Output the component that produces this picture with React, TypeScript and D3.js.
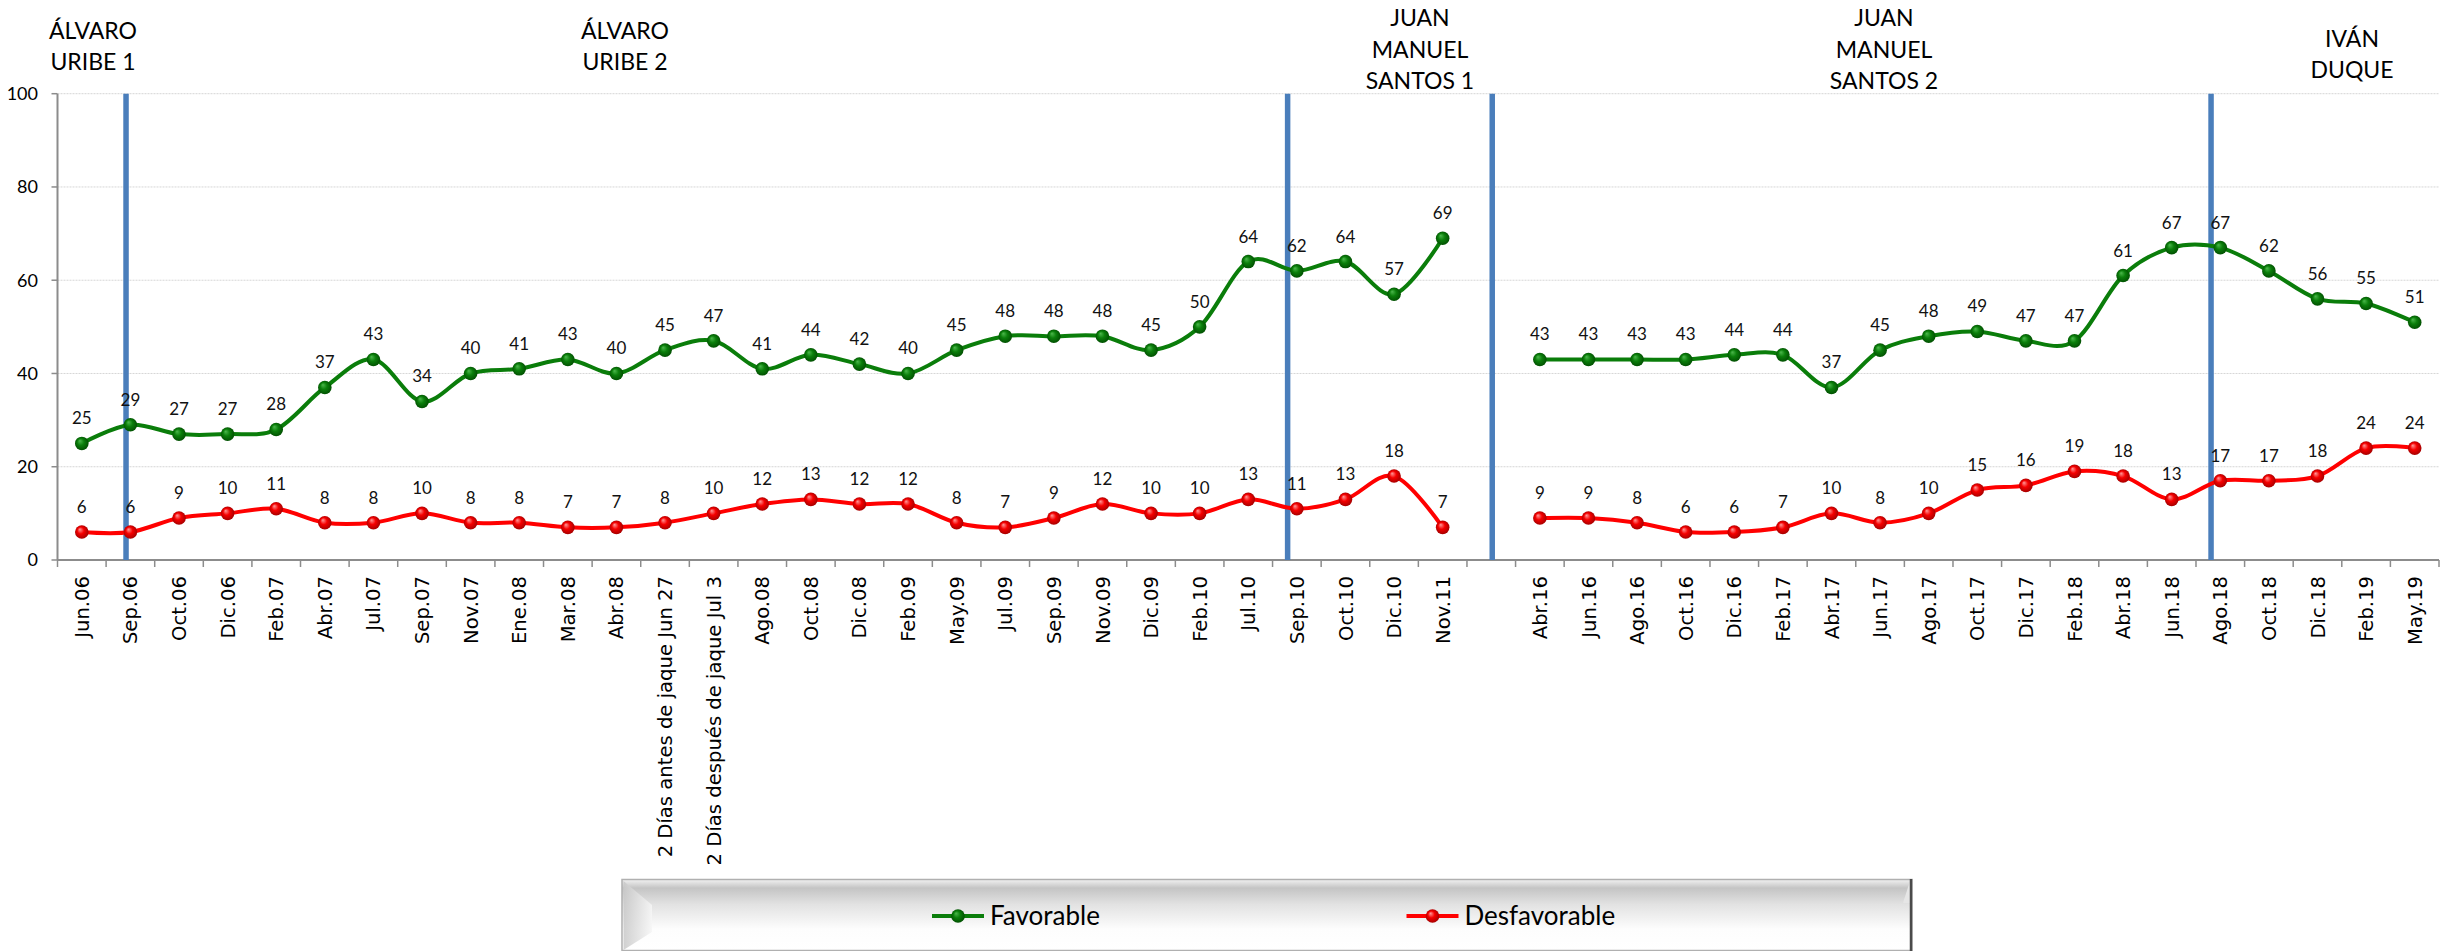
import React, { useEffect } from "react";
import * as d3 from "d3";

// ---------- DATA ----------
const categories: string[] = [
  "Jun.06", "Sep.06", "Oct.06", "Dic.06", "Feb.07", "Abr.07", "Jul.07", "Sep.07", "Nov.07", "Ene.08",
  "Mar.08", "Abr.08", "2 Días antes de jaque Jun 27", "2 Días después de jaque Jul 3", "Ago.08", "Oct.08",
  "Dic.08", "Feb.09", "May.09", "Jul.09", "Sep.09", "Nov.09", "Dic.09", "Feb.10", "Jul.10", "Sep.10",
  "Oct.10", "Dic.10", "Nov.11",
  "",
  "Abr.16", "Jun.16", "Ago.16", "Oct.16", "Dic.16", "Feb.17", "Abr.17", "Jun.17", "Ago.17", "Oct.17",
  "Dic.17", "Feb.18", "Abr.18", "Jun.18", "Ago.18", "Oct.18", "Dic.18", "Feb.19", "May.19",
];

const favorable: (number | null)[] = [
  25, 29, 27, 27, 28, 37, 43, 34, 40, 41, 43, 40, 45, 47, 41, 44, 42, 40, 45, 48, 48, 48, 45, 50, 64, 62, 64, 57, 69,
  null,
  43, 43, 43, 43, 44, 44, 37, 45, 48, 49, 47, 47, 61, 67, 67, 62, 56, 55, 51,
];

const desfavorable: (number | null)[] = [
  6, 6, 9, 10, 11, 8, 8, 10, 8, 8, 7, 7, 8, 10, 12, 13, 12, 12, 8, 7, 9, 12, 10, 10, 13, 11, 13, 18, 7,
  null,
  9, 9, 8, 6, 6, 7, 10, 8, 10, 15, 16, 19, 18, 13, 17, 17, 18, 24, 24,
];

const yTicks: number[] = [0, 20, 40, 60, 80, 100];

// period dividers: the category index they sit on
const dividerIndices: number[] = [1, 25, 29, 44];

const periodTitles: string[][] = [
  ["ÁLVARO", "URIBE 1"],
  ["ÁLVARO", "URIBE 2"],
  ["JUAN", "MANUEL", "SANTOS 1"],
  ["JUAN", "MANUEL", "SANTOS 2"],
  ["IVÁN", "DUQUE"],
];

const seriesNames: string[] = ["Favorable", "Desfavorable"];

// ---------- LAYOUT ----------
const W = 2458;
const H = 951;
const X0 = 57.5;
const X1 = 2439;
const Y0 = 560;
const Y100 = 93.7;
const dividerOffsets = [-0.09, -0.19, 0.02, -0.19];
const titleLayout = [
  { x: 93, y: 38.5 },
  { x: 625, y: 38.5 },
  { x: 1420, y: 26 },
  { x: 1884, y: 26 },
  { x: 2352, y: 46.5 },
];
const LINE_H = 31.7;
const GREEN = "#0a7d0a";
const RED = "#ff0000";
const BLUE = "#4a7ebb";
const AXIS = "#8c8c8c";

export default function App() {
  useEffect(() => {
    document.body.style.margin = "0";
  }, []);

  const idx = d3.range(categories.length);
  const x = d3.scaleBand<number>().domain(idx).range([X0, X1]).padding(0);
  const bw = x.bandwidth();
  const cx = (i: number) => (x(i) as number) + bw / 2;
  const y = d3.scaleLinear().domain([0, 100]).range([Y0, Y100]);

  const line = d3
    .line<number | null>()
    .defined((d) => d !== null)
    .x((_, i) => cx(i))
    .y((d) => y(d as number))
    .curve(d3.curveCardinal.tension(0));

  const series = [
    { name: seriesNames[0], values: favorable, color: GREEN, grad: "url(#gGreen)" },
    { name: seriesNames[1], values: desfavorable, color: RED, grad: "url(#gRed)" },
  ];

  const boundaries = d3.range(categories.length + 1).map((i) =>
    i < categories.length ? (x(i) as number) : X1
  );

  const labelFont = "Lato, 'Open Sans', sans-serif";

  return (
    <svg width={W} height={H} style={{ position: "absolute", left: 0, top: 0, background: "#fff" }}>
      <defs>
        <radialGradient id="gGreen" cx="50%" cy="50%" r="55%" fx="35%" fy="30%">
          <stop offset="0%" stopColor="#4cb84c" />
          <stop offset="45%" stopColor="#0b7f0b" />
          <stop offset="100%" stopColor="#004a00" />
        </radialGradient>
        <radialGradient id="gRed" cx="50%" cy="50%" r="55%" fx="35%" fy="30%">
          <stop offset="0%" stopColor="#ff9a9a" />
          <stop offset="45%" stopColor="#f50000" />
          <stop offset="100%" stopColor="#9c0000" />
        </radialGradient>
        <linearGradient id="legBg" x1="0" y1="0" x2="0" y2="1">
          <stop offset="0%" stopColor="#f2f2f2" />
          <stop offset="12%" stopColor="#c4c4c4" />
          <stop offset="35%" stopColor="#e2e2e2" />
          <stop offset="70%" stopColor="#fdfdfd" />
          <stop offset="100%" stopColor="#ffffff" />
        </linearGradient>
        <linearGradient id="legLeft" x1="0" y1="0" x2="1" y2="0">
          <stop offset="0%" stopColor="#c8c8c8" />
          <stop offset="100%" stopColor="#f6f6f6" />
        </linearGradient>
      </defs>

      {/* gridlines */}
      {yTicks
        .filter((t) => t > 0)
        .map((t) => (
          <line key={"g" + t} x1={X0} x2={X1} y1={y(t)} y2={y(t)} stroke="#d6d6d6" strokeWidth={1} strokeDasharray="2 1" />
        ))}

      {/* y axis */}
      <line x1={X0} x2={X0} y1={Y100} y2={Y0} stroke={AXIS} strokeWidth={2} />
      {yTicks.map((t) => (
        <g key={"yt" + t}>
          <line x1={X0 - 6} x2={X0} y1={y(t)} y2={y(t)} stroke={AXIS} strokeWidth={1.5} />
          <text x={38} y={y(t)} dy="0.35em" textAnchor="end" fontFamily={labelFont} fontSize={18} fill="#000">
            {t}
          </text>
        </g>
      ))}

      {/* x axis */}
      <line x1={X0} x2={X1} y1={Y0} y2={Y0} stroke={AXIS} strokeWidth={2} />
      {boundaries.map((bx, i) => (
        <line key={"xt" + i} x1={bx} x2={bx} y1={Y0} y2={Y0 + 7} stroke={AXIS} strokeWidth={1.5} />
      ))}
      {categories.map((c, i) =>
        c ? (
          <text
            key={"xl" + i}
            transform={`translate(${cx(i)},${576}) rotate(-90)`}
            dy="0.36em"
            textAnchor="end"
            fontFamily="'DejaVu Sans', Verdana, sans-serif"
            fontSize={19.6}
            fill="#000"
          >
            {c}
          </text>
        ) : null
      )}

      {/* dividers */}
      {dividerIndices.map((di, k) => {
        const dx = cx(di) + dividerOffsets[k] * bw;
        return <line key={"dv" + k} x1={dx} x2={dx} y1={Y100} y2={Y0} stroke={BLUE} strokeWidth={5.5} />;
      })}

      {/* series */}
      {series.map((s) => (
        <g key={s.name}>
          <path d={line(s.values) || ""} fill="none" stroke={s.color} strokeWidth={4} />
          {s.values.map((v, i) =>
            v === null ? null : <circle key={i} cx={cx(i)} cy={y(v)} r={6.8} fill={s.grad} />
          )}
          {s.values.map((v, i) =>
            v === null ? null : (
              <text
                key={"l" + i}
                x={cx(i)}
                y={y(v) - 25}
                dy="0.35em"
                textAnchor="middle"
                fontFamily={labelFont}
                fontSize={17}
                fill="#111"
              >
                {v}
              </text>
            )
          )}
        </g>
      ))}

      {/* period titles */}
      {periodTitles.map((lines, k) => (
        <text key={"pt" + k} fontFamily={labelFont} fontSize={23} fill="#000" textAnchor="middle">
          {lines.map((ln, j) => (
            <tspan key={j} x={titleLayout[k].x} y={titleLayout[k].y + j * LINE_H}>
              {ln}
            </tspan>
          ))}
        </text>
      ))}

      {/* legend */}
      <g>
        <rect x={622} y={879.5} width={1290} height={71} fill="url(#legBg)" stroke="#b0b0b0" strokeWidth={1.5} />
        <polygon points="623.5,881 652,905 652,932 623.5,950" fill="url(#legLeft)" opacity={0.85} />
        <polygon points="1910,881 1903,903 1910,903" fill="#e6e6e6" />
        <line x1={1911} x2={1911} y1={879} y2={951} stroke="#4a4a4a" strokeWidth={2.5} />
        {series.map((s, k) => {
          const lx = k === 0 ? 932 : 1406.5;
          return (
            <g key={"lg" + k}>
              <line x1={lx} x2={lx + 52} y1={916} y2={916} stroke={s.color} strokeWidth={4} />
              <circle cx={lx + 26} cy={916} r={6.8} fill={s.grad} />
              <text x={lx + 58} y={916} dy="0.36em" fontFamily={labelFont} fontSize={26} fill="#000">
                {s.name}
              </text>
            </g>
          );
        })}
      </g>
    </svg>
  );
}
